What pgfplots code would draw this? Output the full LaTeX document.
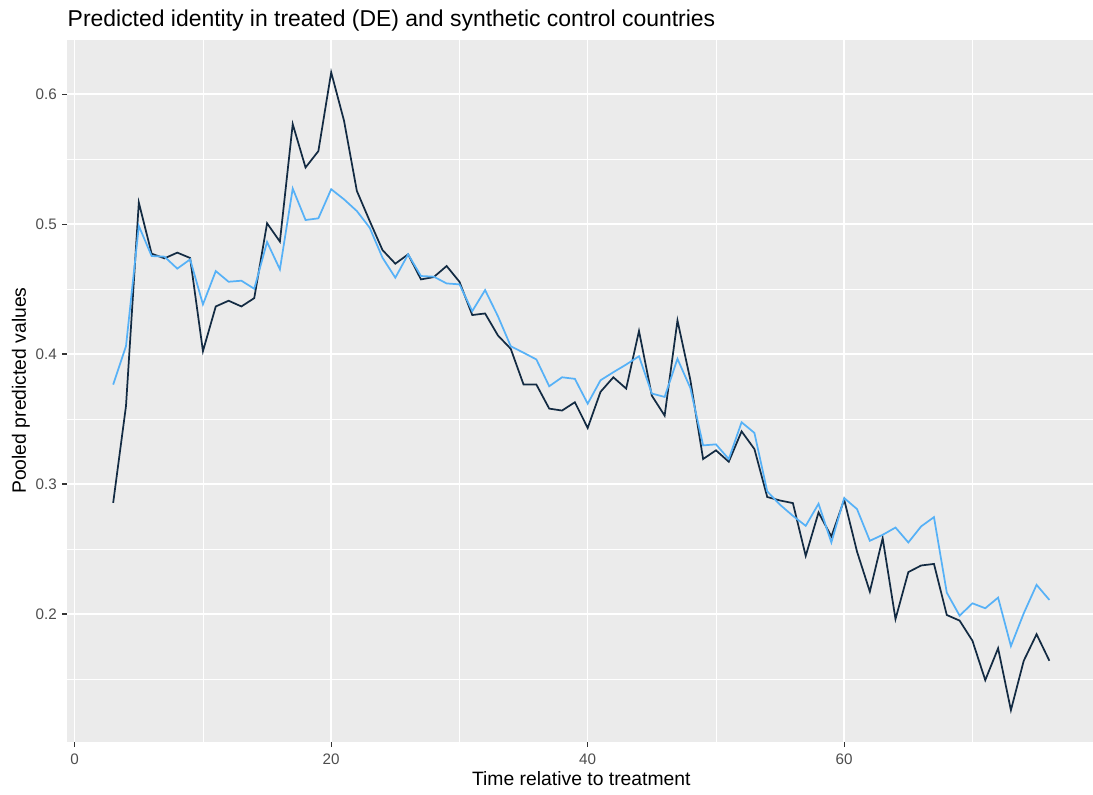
\documentclass[border=0pt]{standalone}
\usepackage{fontspec}
\setmainfont{Liberation Sans}
\usepackage{pgfplots}
\pgfplotsset{compat=1.18}
\usepackage{pgfplotstable}

\definecolor{panelgray}{HTML}{EBEBEB}
\definecolor{treated}{HTML}{132B43}
\definecolor{synth}{HTML}{56B1F7}
\definecolor{tickgray}{HTML}{333333}
\definecolor{labelgray}{HTML}{4D4D4D}

% time, treated (DE), synthetic control
\pgfplotstableread{
t   de      sc
3   0.2855  0.3765
4   0.360   0.406
5   0.5165  0.4985
6   0.4772  0.4754
7   0.4736  0.4749
8   0.478   0.4657
9   0.4739  0.4728
10  0.4022  0.4382
11  0.4366  0.4638
12  0.441   0.4556
13  0.4366  0.4564
14  0.443   0.4502
15  0.5006  0.4862
16  0.4865  0.4651
17  0.5769  0.5273
18  0.5435  0.5031
19  0.5561  0.5044
20  0.6167  0.5268
21  0.5795  0.519
22  0.5255  0.510
23  0.5024  0.4972
24  0.480   0.4741
25  0.4695  0.4587
26  0.4767  0.4767
27  0.4574  0.460
28  0.4592  0.4595
29  0.4677  0.4543
30  0.4556  0.4536
31  0.430   0.433
32  0.4312  0.4492
33  0.4143  0.4291
34  0.404   0.406
35  0.3765  0.401
36  0.3765  0.3958
37  0.358   0.3752
38  0.3565  0.3821
39  0.3629  0.3809
40  0.3431  0.3618
41  0.3709  0.3798
42  0.3821  0.386
43  0.3734  0.3919
44  0.4177  0.3983
45  0.368   0.3696
46  0.3526  0.367
47  0.4258  0.3963
48  0.3803  0.374
49  0.3192  0.3297
50  0.3259  0.3305
51  0.3171  0.3192
52  0.3405  0.3475
53  0.3269  0.3393
54  0.290   0.2943
55  0.2873  0.284
56  0.2853  0.2755
57  0.2447  0.2678
58  0.2781  0.2848
59  0.2596  0.255
60  0.2879  0.2892
61  0.248   0.2807
62  0.2172  0.2563
63  0.2583  0.2609
64  0.1961  0.2665
65  0.2322  0.255
66  0.2373  0.2674
67  0.2385  0.2745
68  0.1992  0.2164
69  0.1949  0.1987
70  0.1794  0.2082
71  0.1491  0.2044
72  0.1736  0.2126
73  0.126   0.1753
74  0.164   0.2005
75  0.1844  0.2224
76  0.164   0.2108
}\pooled

\begin{document}
\begin{tikzpicture}
\path[use as bounding box] (0,0) rectangle (819.75pt,595.5pt);
\begin{axis}[
  at={(50.25pt,39pt)}, anchor=south west,
  scale only axis,
  width=769.5pt, height=526.5pt,
  xmin=-0.6, xmax=79.4,
  ymin=0.1015, ymax=0.6416,
  xtick={0,20,40,60},
  ytick={0.2,0.3,0.4,0.5,0.6},
  minor xtick={10,30,50,70},
  minor ytick={0.15,0.25,0.35,0.45,0.55},
  grid=both,
  major grid style={white, line width=1.2pt},
  minor grid style={white, line width=0.6pt},
  axis background/.style={fill=panelgray},
  axis line style={draw=none},
  xtick pos=bottom, ytick pos=left,
  tick align=outside,
  major tick length=3.4pt,
  minor tick length=0pt,
  tick style={tickgray, line width=0.8pt},
  /pgf/number format/assume math mode=true,
  /pgf/number format/fixed,
  ticklabel style={font=\fontsize{11.4}{13}\selectfont, text=labelgray},
  yticklabel style={inner sep=0pt, anchor=east, xshift=-4pt},
  xticklabel style={inner sep=0pt, anchor=north, yshift=-5pt},
]
\addplot[treated, line width=1.3pt] table[x=t, y=de] {\pooled};
\addplot[synth, line width=1.3pt] table[x=t, y=sc] {\pooled};
\end{axis}
\node[anchor=base west, inner sep=0pt, font=\fontsize{17.2}{20}\selectfont] at (50.6pt,575.5pt)
  {Predicted identity in treated (DE) and synthetic control countries};
\node[anchor=base, inner sep=0pt, font=\fontsize{14.5}{17}\selectfont] at (436pt,6.75pt)
  {Time relative to treatment};
\node[anchor=center, rotate=90, inner sep=0pt, font=\fontsize{14.5}{17}\selectfont] at (15.75pt,302.6pt)
  {Pooled predicted values};
\end{tikzpicture}
\end{document}
